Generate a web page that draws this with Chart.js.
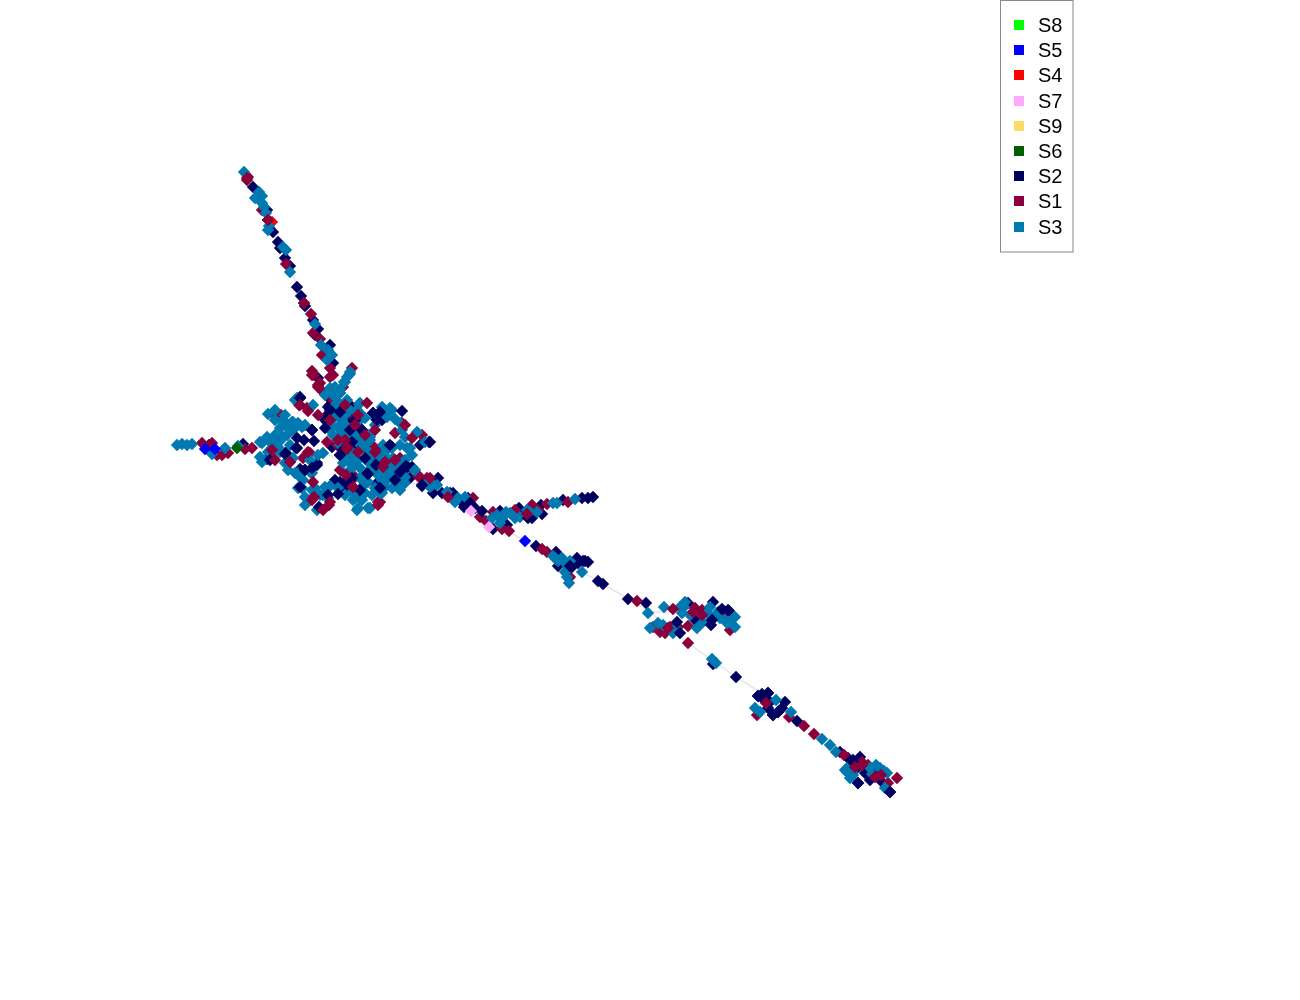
<!DOCTYPE html>
<html><head><meta charset="utf-8">
<style>html,body{margin:0;padding:0;background:#fff}canvas{display:block}</style>
<script src="https://cdn.jsdelivr.net/npm/chart.js@4"></script></head>
<body><canvas id="c" width="1300" height="1000"></canvas>
<script>
const legendOrder=["S8","S5","S4","S7","S9","S6","S2","S1","S3"];
const colors={S8:"#00ff00",S5:"#0000ff",S4:"#ff0000",S7:"#ffaaff",S9:"#ffd966",S6:"#006000",S2:"#000060",S1:"#8b003c",S3:"#0078b0"};
const s8=[];
const s9=[];
const s4=[[272,222]];
const s5=[[205,449],[215,449],[525,541]];
const s6=[[237,448]];
const s7=[[471,511],[489,527]];
const edges=[[245,172],[290,268],[305,306],[330,370],null,[262,440],[345,440],null,[300,445],[400,480],[430,487],[525,541],[600,582],[650,612],[672,612],null,[650,612],[688,643],[736,677],[765,695],[814,734],[850,765]];
const s2=[[253,187],[267,210],[273,232],[278,242],[280,248],[285,258],[290,266],[313,320],[318,329],[315,335],[330,345],[333,363],[318,378],[328,397],
[209,445],[243,444],[267,459],[286,453],[300,398],[312,430],[328,407],[325,420],[352,407],[380,412],[392,447],[412,467],[402,473],[367,473],[347,483],[300,469],[317,465],[332,447],[340,455],[355,442],[373,457],[429,442],[285,453],[327,422],[330,405],[350,417],[343,448],[327,415],[300,397],[373,413],[382,420],[362,430],[353,443],[420,445],[388,447],[350,418],[368,457],[340,482],[335,480],[352,478],[367,475],[375,462],[317,463],[305,470],[408,467],[346,412],[338,438],[358,450],[376,484],[345,490],[392,465],[410,478],
[422,486],[438,478],[433,493],[442,493],[450,493],[453,493],[464,507],[493,529],[507,525],[500,511],[519,508],[532,518],[541,505],[542,514],[563,500],[582,498],[588,498],[593,497],[536,546],[556,552],[558,566],[577,558],[583,561],[588,562],[572,567],[598,581],[603,584],[628,599],[646,603],[688,603],[695,620],[713,602],[729,611],[460,500],[468,498],[475,508],[524,513],[578,563],
[713,664],[736,677],[758,696],[768,693],[785,702],[773,715],[778,712],[797,721],[840,752],[848,758],[853,760],[865,773],[858,783],[882,782],[890,792],[764,700],[768,708],[770,702],[855,770],[860,757],[870,780],[762,694],[782,708],[858,765],[875,770]];
const s1=[[248,177],[247,180],[262,210],[268,220],[286,264],[304,303],[311,314],[313,333],[320,339],[322,355],[330,368],[333,375],[312,371],[318,387],[352,368],[343,387],[314,375],[320,383],[330,377],
[202,443],[217,455],[228,453],[245,449],[252,448],[273,458],[272,448],[281,415],[275,416],[299,405],[312,375],[318,385],[355,418],[357,427],[377,450],[422,435],[400,458],[378,502],[360,498],[353,487],[329,505],[303,458],[327,442],[355,477],[307,408],[318,415],[333,400],[323,392],[348,437],[337,445],[310,453],[288,425],[355,425],[378,450],[347,447],[395,433],[402,423],[347,475],[353,487],[380,502],[290,462],[308,453],[383,467],[400,462],[420,477],[365,483],[212,443],[222,455],[340,470],[372,445],
[418,476],[427,478],[473,498],[480,517],[486,521],[502,529],[509,531],[493,512],[532,505],[547,504],[568,502],[542,549],[547,552],[570,577],[637,601],[702,610],[725,613],[730,630],[653,627],[670,627],[665,633],[688,626],[678,627],[688,643],[515,510],[538,510],[660,632],[695,608],
[757,715],[789,717],[814,734],[853,767],[862,762],[897,778],[888,783],[868,765],[880,775]];
const s3=[[244,172],[259,192],[255,198],[262,203],[266,213],[269,226],[286,250],[290,272],[315,324],[328,350],[327,360],[350,372],[345,382],[335,387],[332,390],[340,393],[297,398],[258,196],[262,196],[264,207],[268,230],[283,247],[321,345],[332,355],[347,377],
[177,445],[182,444],[192,444],[187,445],[212,454],[225,448],[238,446],[262,443],[270,442],[280,441],[268,452],[262,462],[285,463],[293,458],[323,453],[268,414],[275,420],[283,420],[293,422],[302,427],[293,430],[287,435],[295,400],[313,405],[330,388],[350,374],[344,382],[340,393],[335,415],[333,427],[342,420],[359,404],[360,413],[350,433],[382,407],[390,408],[395,419],[370,440],[367,450],[405,437],[417,432],[425,442],[407,448],[400,423],[390,465],[393,477],[405,483],[398,487],[385,487],[380,493],[372,495],[357,510],[368,508],[355,498],[360,468],[373,470],[350,470],[338,488],[325,487],[298,488],[305,497],[323,495],[317,510],[297,473],[312,473],[310,460],[343,463],[358,460],[333,435],[368,435],[387,458],[382,480],[363,480],
[283,422],[292,422],[298,423],[305,425],[288,428],[280,428],[275,435],[267,437],[260,442],[272,440],[283,437],[332,420],[338,427],[328,428],[335,397],[340,390],[270,453],[280,452],[260,457],
[360,403],[357,410],[365,418],[347,400],[383,408],[387,417],[392,410],[402,430],[370,437],[365,443],[385,452],[392,448],[400,445],[410,448],[373,455],
[345,458],[352,465],[298,475],[310,472],[302,488],[295,473],[320,495],[315,488],[353,500],[358,508],[370,508],[365,493],[375,488],[382,493],[392,488],[400,483],[385,482],[362,487],[360,478],[372,470],[385,470],[395,475],[405,477],[393,458],[378,455],[398,465],[353,455],
[340,404],[350,410],[338,412],[345,425],[352,428],[342,432],[360,420],[375,425],[362,438],[340,445],[350,450],[360,445],[368,462],[380,462],[412,455],[352,440],[303,480],[330,486],[328,498],[310,500],[345,495],[415,470],[290,445],[278,447],
[345,415],[355,433],[335,405],[325,395],[348,458],[375,418],[383,445],[405,460],[378,475],[392,470],[368,482],[352,492],[312,490],[305,505],[362,500],[388,478],[400,490],[275,410],[285,415],[318,455],[288,470],[275,445],
[432,485],[427,483],[430,487],[437,485],[455,502],[458,498],[492,518],[500,523],[510,513],[503,517],[515,518],[520,517],[527,510],[537,512],[557,503],[553,503],[575,499],[553,556],[562,558],[558,561],[565,563],[565,572],[567,577],[569,583],[582,572],[648,613],[664,607],[685,602],[682,613],[684,607],[703,622],[707,613],[710,607],[713,618],[720,618],[735,617],[735,627],[727,623],[725,620],[658,623],[650,628],[673,633],[663,625],[497,515],[506,512],[530,512],[465,497],[447,492],[690,615],[697,628],[676,628],[570,561],[556,559],[680,607],[718,612],[729,622],
[712,659],[716,663],[776,700],[760,712],[755,708],[791,712],[822,739],[830,745],[836,752],[847,772],[853,775],[870,768],[880,768],[884,771],[887,773],[885,788],[850,778],[845,770],[850,765],[876,765],[852,772],[872,774]];
const s2Over=[[402,411],[314,441],[304,440],[297,438],[297,448],[319,507],[328,495],[368,474],[300,487],[296,448],[362,430],[377,420],[300,398],[430,442],[470,503],[482,511],[677,622],[711,625],[680,633],[722,609],[380,412],[373,413],[350,430],[352,442],[400,472],[352,478],[305,470],[297,287],[301,296],[305,306],[312,430],[340,455],[422,485],[758,696],[768,693],[778,712],[773,715],[853,762],[890,792],[858,783],
[330,410],[355,420],[376,465],[345,482],[312,468],[380,488],[406,466],[325,428],[343,450],[365,458],[285,454],[270,460],[390,445],[338,494],[360,490],[395,480],[340,412],[528,518],[585,561],[570,566],[712,620],[728,610]];
const s1Over=[[346,475],[367,403],[375,430],[412,438],[313,482],[314,497],[308,452],[308,411],[345,440],[347,449],[323,510],[330,502],[448,497],[527,514],[673,609],[693,612],[766,703],[804,726],[844,755],[875,777],[355,425],[347,447],[365,435],[353,487],[383,467],[290,462],[330,420],[304,303],[268,220],[247,178],[881,775],[862,765],
[338,440],[358,415],[345,405],[272,450],[275,460],[385,462],[405,425],[378,505],[358,452],[300,405],[395,460],[375,452],[312,500],[430,478],[702,615],[668,628],[855,767]];

const toPts=a=>a.map(p=>p?{x:p[0],y:p[1]}:{x:null,y:null});
const marks=(label,data)=>({type:"scatter",label,data:toPts(data),pointStyle:"rectRot",pointRadius:6.2,pointHoverRadius:6.2,pointBorderWidth:0,borderWidth:0,backgroundColor:colors[label]});
const legendPlugin={id:"boxLegend",afterDraw(chart){
  const g=chart.ctx;g.save();
  g.strokeStyle="#888888";g.lineWidth=1;g.strokeRect(1000.5,0.5,72.5,251.5);
  g.font="20px 'Liberation Sans'";g.textBaseline="middle";
  const rows=[25,50,75,101,126,151,176,201,227];
  legendOrder.forEach((name,i)=>{
    g.fillStyle=colors[name];g.fillRect(1014,rows[i]-5,10,10);
    g.fillStyle="#000";g.fillText(name,1038,rows[i]+1);
  });
  g.restore();
}};
/* listed bottom to top; Chart.js paints the first dataset last, so the list is reversed */
const layers=[
  {type:"line",label:"edges",data:toPts(edges),borderColor:"#e6e6e6",borderWidth:1.5,pointRadius:0,spanGaps:false,fill:false,tension:0},
  marks("S8",s8),marks("S9",s9),marks("S4",s4),
  marks("S2",s2),marks("S1",s1),marks("S3",s3),marks("S2",s2Over),marks("S1",s1Over),
  marks("S5",s5),marks("S6",s6),marks("S7",s7)
];
new Chart(document.getElementById("c"),{
  type:"scatter",
  data:{datasets:layers.reverse()},
  options:{responsive:false,animation:false,devicePixelRatio:1,
    layout:{padding:0,autoPadding:false},
    plugins:{legend:{display:false},tooltip:{enabled:false}},
    scales:{x:{type:"linear",display:false,min:0,max:1300},y:{type:"linear",display:false,reverse:true,min:0,max:1000}}
  },
  plugins:[legendPlugin]
});
</script></body></html>
